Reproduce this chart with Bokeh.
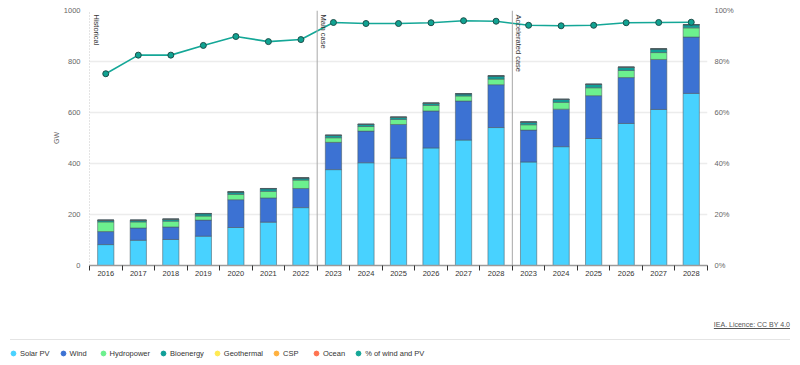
import math
from bokeh.plotting import figure
from bokeh.layouts import column
from bokeh.models import (ColumnDataSource, Range1d, LinearAxis, FixedTicker, Span,
                          Label, Legend, LegendItem, Div)
from bokeh.embed import file_html
from bokeh.resources import INLINE

# ---------------- data ----------------
categories = ["2016", "2017", "2018", "2019", "2020", "2021", "2022",
              "2023", "2024", "2025", "2026", "2027", "2028",
              "2023", "2024", "2025", "2026", "2027", "2028"]
solar_pv   = [82, 99, 102, 115, 149, 170, 227, 376, 403, 421, 461, 492, 541, 406, 466, 498, 557, 612, 675]
wind       = [51, 48, 49, 63, 109, 95, 75, 107, 124, 132, 145, 153, 168, 125, 147, 168, 180, 196, 221]
hydropower = [38, 24, 23, 16, 21, 26, 33, 18, 18, 20, 22, 20, 22, 21, 27, 31, 28, 27, 36]
bioenergy  = [6, 6, 7, 9, 9, 10, 8, 9, 8, 8, 8, 8, 12, 10, 11, 13, 12, 14, 12]
geothermal = [0.5, 0.5, 0.5, 0.5, 0.5, 0.5, 0.5, 0.5, 0.5, 0.5, 0.5, 0.5, 0.5, 0.5, 0.5, 0.5, 0.5, 0.5, 0.5]
csp        = [0.5, 0.5, 0.5, 0.5, 0.5, 0.5, 0.5, 0.5, 0.5, 0.5, 0.5, 0.5, 0.5, 0.5, 0.5, 0.5, 0.5, 0.5, 0.5]
ocean      = [0, 0, 0, 0, 0, 0, 0, 0, 0, 0, 0, 0, 0, 0, 0, 0, 0, 0, 0]
pct_wind_pv = [75.2, 82.5, 82.5, 86.3, 89.8, 87.8, 88.6, 95.3, 94.9, 94.9, 95.2, 96.0, 95.8,
               94.2, 94.0, 94.2, 95.2, 95.3, 95.4]

series_names = ["Solar PV", "Wind", "Hydropower", "Bioenergy", "Geothermal", "CSP", "Ocean"]
series_values = [solar_pv, wind, hydropower, bioenergy, geothermal, csp, ocean]
series_colors = ["#48d2ff", "#3c72d3", "#6cf08e", "#109f98", "#ffea52", "#ffb13f", "#ff7350"]
line_name = "% of wind and PV"
line_color = "#14a797"

case_labels = ["Historical", "Main case", "Accelerated case"]
case_start_index = [0, 7, 13]

gw_ticks = [0, 200, 400, 600, 800, 1000]
pct_ticks = [0, 20, 40, 60, 80, 100]
source_text = "IEA. Licence: CC BY 4.0"

# ---------------- figure ----------------
x = list(range(len(categories)))
keys = ["s%d" % i for i in range(len(series_names))]
data = {"x": x, "pct": pct_wind_pv}
for k, v in zip(keys, series_values):
    data[k] = v
src = ColumnDataSource(data)

FONT = "Liberation Sans"

p = figure(width=800, height=300, x_range=Range1d(-0.5, len(categories) - 0.5),
           y_range=Range1d(0, 1000), output_backend="svg", toolbar_location=None,
           min_border_left=89, min_border_right=93, min_border_top=10, min_border_bottom=35)
p.outline_line_color = None
p.xgrid.visible = False
p.ygrid.ticker = FixedTicker(ticks=gw_ticks)
p.ygrid.grid_line_color = "#ececec"
p.ygrid.grid_line_width = 1.5

p.extra_y_ranges = {"pct": Range1d(0, 100)}

# stacked bars
p.vbar_stack(keys, x="x", width=0.5, source=src, color=series_colors,
             line_color="#4b5b63", line_alpha=0.55, line_width=1)

# line
p.line("x", "pct", source=src, y_range_name="pct", line_color=line_color, line_width=1.6)
p.scatter("x", "pct", source=src, y_range_name="pct", size=6, fill_color="#10a392",
          line_color="#1d4f4a", line_width=1)

# x axis
xa = p.xaxis[0]
xa.ticker = FixedTicker(ticks=x, minor_ticks=[i - 0.5 for i in range(len(categories) + 1)])
xa.major_label_overrides = {i: c for i, c in zip(x, categories)}
xa.major_tick_line_color = None
xa.major_tick_out = 0
xa.major_tick_in = 0
xa.minor_tick_line_color = "#333333"
xa.minor_tick_in = 0
xa.minor_tick_out = 5
xa.axis_line_color = "#9a9a9a"
xa.axis_line_width = 1.5
xa.major_label_standoff = 0
xa.major_label_text_font = FONT
xa.major_label_text_font_size = "7.5px"
xa.major_label_text_color = "#333333"

# left axis
ya = p.yaxis[0]
ya.ticker = FixedTicker(ticks=gw_ticks)
ya.axis_line_color = "#c8c8c8"
ya.axis_line_dash = "1 2"
ya.major_tick_line_color = None
ya.major_tick_out = 0
ya.major_tick_in = 0
ya.minor_tick_line_color = None
ya.major_label_standoff = 9
ya.major_label_text_font = FONT
ya.major_label_text_font_size = "7.5px"
ya.major_label_text_color = "#666666"
ya.axis_label = "GW"
ya.axis_label_text_font = FONT
ya.axis_label_text_font_size = "7px"
ya.axis_label_text_font_style = "normal"
ya.axis_label_text_color = "#666666"
ya.axis_label_standoff = 1

# right axis
ra = LinearAxis(y_range_name="pct", ticker=FixedTicker(ticks=pct_ticks),
                major_label_overrides={t: "%d%%" % t for t in pct_ticks})
ra.axis_line_color = None
ra.major_tick_line_color = None
ra.major_tick_out = 0
ra.major_tick_in = 0
ra.minor_tick_line_color = None
ra.major_label_standoff = 7
ra.major_label_text_font = FONT
ra.major_label_text_font_size = "7.5px"
ra.major_label_text_color = "#666666"
p.add_layout(ra, "right")

# case separators and labels
for lab, si in zip(case_labels, case_start_index):
    xpos = si - 0.5
    if si > 0:
        p.add_layout(Span(location=xpos, dimension="height", line_color="#a8a8a8", line_width=1))
    p.add_layout(Label(x=xpos, y=1000, x_offset=2, y_offset=-4, text=lab, angle=-math.pi / 2,
                       text_align="left", text_baseline="bottom", text_font=FONT,
                       text_font_size="7.5px", text_color="#333333"))

# ---------------- source line ----------------
div = Div(width=800, height=45, text=(
    '<div style="position:relative;width:800px;height:45px;margin:0;padding:0;">'
    '<span style="position:absolute;right:10px;top:20px;font-family:\'Liberation Sans\',Arial,sans-serif;'
    'font-size:7px;color:#555;text-decoration:underline;white-space:nowrap;">'
    + source_text +
    '</span>'
    '<div style="position:absolute;left:10px;right:10px;top:39px;height:1px;background:#e4e4e4;"></div>'
    '</div>'), margin=(0, 0, 0, 0))

# ---------------- legend (separate root, so its frame is not aligned) ----------------
lg = figure(width=800, height=20, x_range=Range1d(0, 1), y_range=Range1d(0, 1),
            x_axis_type=None, y_axis_type=None, output_backend="svg", toolbar_location=None,
            min_border=0, min_border_left=0, min_border_right=0, min_border_top=0,
            min_border_bottom=0)
lg.outline_line_color = None
lg.grid.visible = False
items = []
for name, col in zip(series_names, series_colors):
    r = lg.scatter(x=[-5], y=[-5], size=5, fill_color=col, line_color=col)
    items.append(LegendItem(label=name, renderers=[r]))
r = lg.scatter(x=[-5], y=[-5], size=5, fill_color=line_color, line_color=line_color)
items.append(LegendItem(label=line_name, renderers=[r]))
legend = Legend(items=items, orientation="horizontal", location=(7, 6),
                glyph_width=12, glyph_height=12, label_height=12, label_standoff=1,
                spacing=7, padding=0, margin=0, border_line_color=None,
                background_fill_alpha=0, label_text_font=FONT, label_text_font_size="7.5px",
                label_text_color="#333333")
lg.add_layout(legend)

top = column(p, div, spacing=0)
open("out.html", "w").write(file_html([top, lg], INLINE))
